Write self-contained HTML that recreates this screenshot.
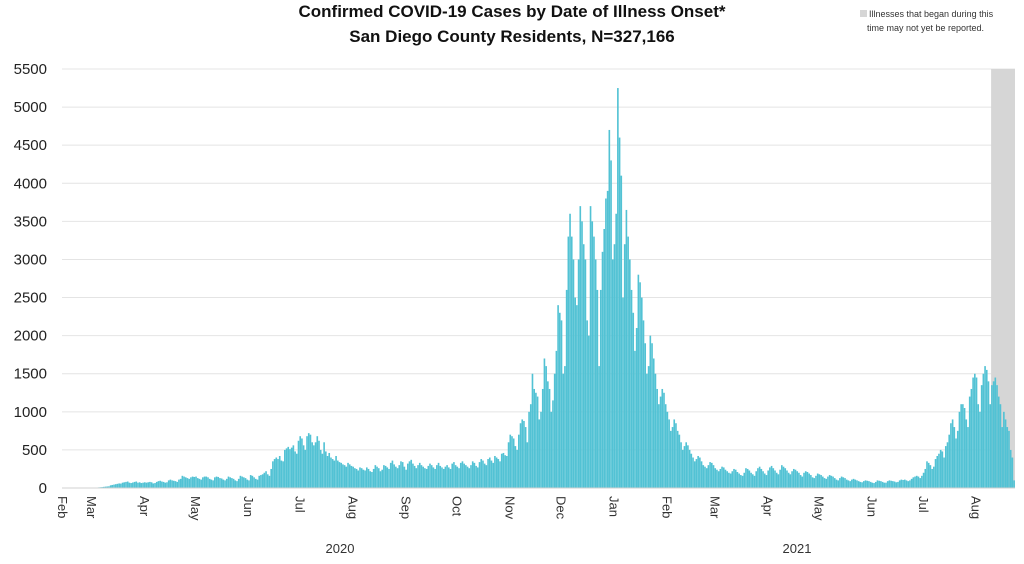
<!DOCTYPE html>
<html><head><meta charset="utf-8"><style>
body{margin:0;background:#fff;width:1024px;height:559px;overflow:hidden;font-family:"Liberation Sans",sans-serif}
</style></head><body>
<svg id="chart" width="1024" height="559" xmlns="http://www.w3.org/2000/svg" font-family="Liberation Sans, sans-serif">
<text x="512" y="17" text-anchor="middle" font-size="17" font-weight="bold" fill="#111">Confirmed COVID-19 Cases by Date of Illness Onset*</text>
<text x="512" y="42" text-anchor="middle" font-size="17" font-weight="bold" fill="#111">San Diego County Residents, N=327,166</text>
<rect x="860" y="10" width="7" height="7" fill="#d6d6d6"/>
<text x="869" y="17" font-size="9" fill="#333">Illnesses that began during this</text>
<text x="867" y="31" font-size="9" fill="#333">time may not yet be reported.</text>
<g id="grid"></g><g id="shade"></g><g id="bars"></g><g id="axes"></g>
<text x="340" y="553" text-anchor="middle" font-size="13" fill="#333">2020</text>
<text x="797" y="553" text-anchor="middle" font-size="13" fill="#333">2021</text>
</svg>
<script>
const weeks = [
[0,0,0,0,0,0,0],[0,1,0,0,1,0,0],[1,2,1,3,2,4,5],[8,10,12,15,18,20,22],
[35,40,45,50,55,60,58],[70,75,80,85,70,65,72],[80,85,70,75,65,70,75],[70,75,80,75,60,65,80],
[90,95,85,80,70,75,100],[110,100,95,90,80,110,120],[160,150,140,130,120,140,150],[145,150,130,120,110,140,150],
[150,140,120,110,100,140,150],[145,130,125,110,100,120,150],[140,130,120,100,90,120,160],[150,140,130,110,100,170,160],
[140,120,110,160,170,180,200],[220,180,160,250,350,380,400],[380,420,360,350,500,520,540],[510,530,560,480,450,620,680],
[650,560,500,680,720,700,600],[560,600,680,620,500,450,600],[480,420,460,400,380,360,420],[360,340,330,310,300,280,330],
[310,290,280,260,250,230,270],[260,240,230,270,250,220,210],[250,300,280,260,220,240,300],[290,270,250,330,360,310,280],
[260,300,350,340,280,240,320],[350,370,320,290,260,300,330],[300,280,260,250,290,320,300],[270,250,300,330,290,270,250],
[280,300,270,250,320,340,300],[280,260,330,350,320,300,280],[260,300,350,330,290,270,340],[380,360,320,300,380,400,360],
[330,420,400,380,350,450,460],[430,420,600,700,680,650,550],[500,700,850,900,880,800,600],[1000,1100,1500,1300,1250,1200,900],
[1000,1300,1700,1600,1400,1300,1000],[1150,1500,1800,2400,2300,2200,1500],[1600,2600,3300,3600,3300,3000,2500],[2400,3000,3700,3500,3200,3000,2200],
[2000,3700,3500,3300,3000,2600,1600],[2600,3100,3400,3800,3900,4700,4300],[3000,3200,3600,5250,4600,4100,2500],[3200,3650,3300,3000,2600,2300,1800],
[2100,2800,2700,2500,2200,1900,1500],[1600,2000,1900,1700,1500,1300,1100],[1200,1300,1250,1100,1000,900,750],[800,900,850,750,700,600,500],
[550,600,560,500,450,400,350],[380,420,400,350,300,280,260],[300,340,330,300,260,240,220],[250,280,270,240,220,200,190],
[220,250,240,210,190,170,160],[200,260,250,230,200,180,160],[220,260,280,250,220,190,170],[230,270,290,260,230,200,180],
[240,300,280,260,230,200,180],[220,250,240,220,200,170,150],[200,220,210,190,170,140,130],[160,190,180,170,150,130,120],
[150,170,160,150,130,110,100],[130,150,140,130,110,100,90],[110,120,110,100,90,80,75],[90,100,95,90,80,70,65],
[80,100,95,90,80,70,70],[90,100,95,90,85,75,80],[100,110,105,110,100,90,100],[120,140,150,160,150,130,160],
[200,250,350,330,300,250,280],[380,420,450,500,480,400,550],[600,700,850,900,800,650,750],[1000,1100,1100,1050,900,800,1200],
[1300,1450,1500,1450,1100,1000,1350],[1500,1600,1550,1400,1100,1350,1400],[1450,1350,1200,1100,800,1000,900],[800,750,500,400,100]
];
const yTicks = [0,500,1000,1500,2000,2500,3000,3500,4000,4500,5000,5500];
const monthLabels = ["Feb","Mar","Apr","May","Jun","Jul","Aug","Sep","Oct","Nov","Dec","Jan","Feb","Mar","Apr","May","Jun","Jul","Aug"];
const monthStartDay = [0,17,48,78,109,139,170,201,231,262,292,323,354,382,413,443,474,504,535];
const pendingStartDay = 544;

const values = [].concat(...weeks);
const NS="http://www.w3.org/2000/svg";
const X0=62, X1=1015, Y0=488, Y1=69, NDAYS=558;
const x = d => X0 + (X1-X0)*d/NDAYS;
const y = v => Y0 - (Y0-Y1)*v/5500;
function mk(tag, attrs, parent){const e=document.createElementNS(NS,tag);for(const k in attrs)e.setAttribute(k,attrs[k]);parent.appendChild(e);return e;}
const grid=document.getElementById('grid'), bars=document.getElementById('bars'), axes=document.getElementById('axes'), shade=document.getElementById('shade');
yTicks.forEach(t=>{
  const l=mk('line',{x1:X0,x2:X1,y1:y(t),y2:y(t),stroke:'#e4e4e4','stroke-width':1},grid);
  
  
  const tx=mk('text',{x:47,y:y(t)+5,'text-anchor':'end','font-size':15,fill:'#222'},axes);
  tx.textContent=t;
  
  
});
const sr=mk('rect',{x:x(pendingStartDay),y:Y1,width:X1-x(pendingStartDay),height:Y0-Y1,fill:'#d6d6d6'},shade);


const bw=(X1-X0)/NDAYS*0.95;
values.forEach((v,i)=>{
  const r=mk('rect',{x:x(i),y:y(v),width:bw,height:Y0-y(v),fill:'#52c2d4'},bars);
  
  
});
const ax=mk('line',{x1:X0,x2:X1,y1:Y0,y2:Y0,stroke:'#d0d0d0'},axes);


monthLabels.forEach((m,i)=>{
  const px=x(monthStartDay[i]);
  const t=mk('text',{x:0,y:0,'font-size':13,fill:'#333',transform:`translate(${px-4},496) rotate(90)`},axes);
  t.textContent=m;
  
  
});
</script>
</body></html>
